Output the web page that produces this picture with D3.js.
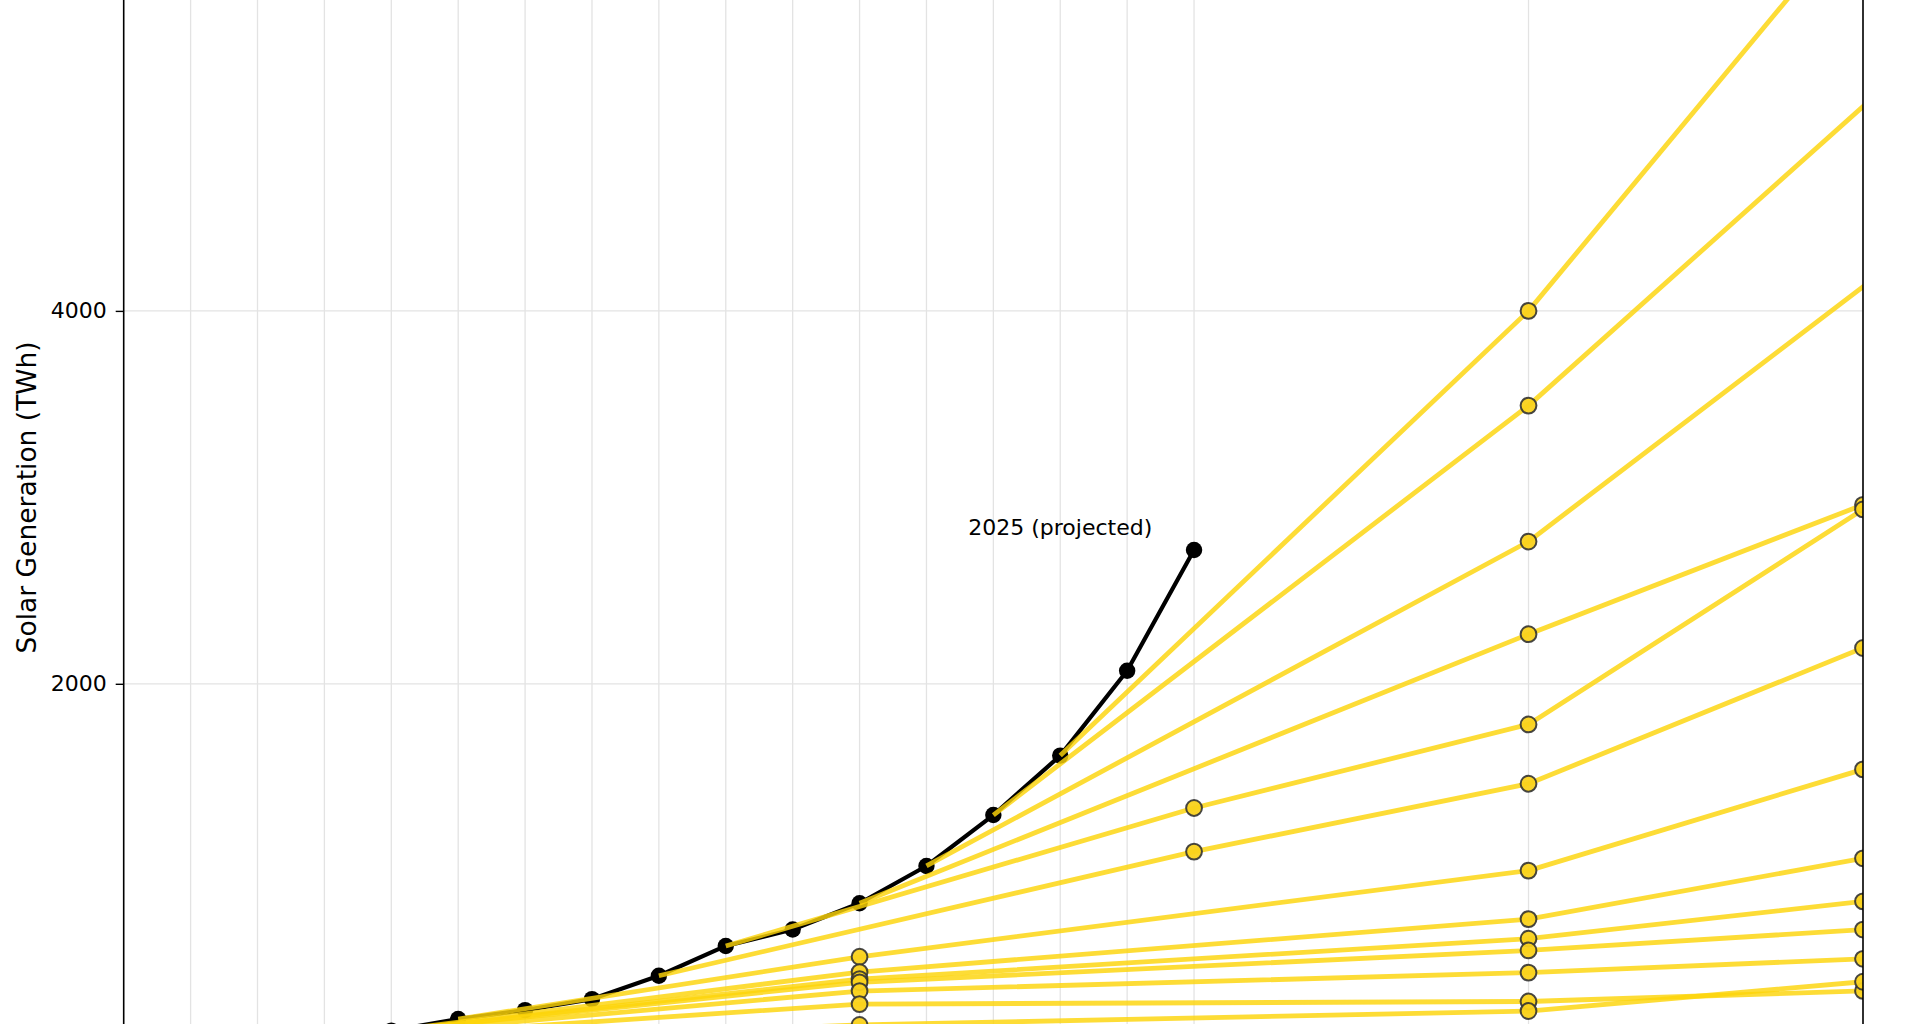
<!DOCTYPE html>
<html>
<head>
<meta charset="utf-8">
<script src="https://cdn.jsdelivr.net/npm/d3@7"></script>
<style>
  html, body { margin: 0; padding: 0; background: #fff; }
  svg { display: block; font-family: "DejaVu Sans", sans-serif; }
</style>
</head>
<body>
<div id="chart"></div>
<script>
// actual solar generation (TWh), 2025 is projected
const histYears = [2010, 2011, 2012, 2013, 2014, 2015, 2016, 2017, 2018, 2019, 2020, 2021, 2022, 2023, 2024, 2025];
const histValues = [32, 63, 99, 140, 202, 250, 309, 434, 594, 682, 823, 1023, 1296, 1615, 2070, 2718];

// projection lines: first point is the base year, the rest are projected points
const projYears = [
  [2023, 2030, 2035],
  [2022, 2030, 2040],
  [2021, 2030, 2040],
  [2020, 2030, 2035],
  [2018, 2025, 2030, 2035],
  [2017, 2025, 2030, 2035],
  [2014, 2020, 2030, 2035],
  [2013, 2020, 2030, 2035],
  [2012, 2020, 2030, 2035],
  [2011, 2020, 2030, 2035],
  [2010, 2020, 2030, 2035],
  [2009, 2020, 2030, 2035],
  [2008, 2020, 2030, 2035]
];
const projValues = [
  [1615, 4000, 6160],
  [1296, 3492, 6700],
  [1023, 2763, 5497],
  [823, 2266, 2960],
  [594, 1334, 1782, 2935],
  [434, 1100, 1464, 2192],
  [202, 536, 998, 1541],
  [140, 454, 738, 1064],
  [99, 416, 633, 833],
  [63, 399, 570, 682],
  [32, 352, 451, 525],
  [20, 282, 296, 353],
  [12, 170, 245, 402]
];

const xTicks = [2010, 2011, 2012, 2013, 2014, 2015, 2016, 2017, 2018, 2019, 2020, 2021, 2022, 2023, 2024, 2025, 2030, 2035];
const yGrid = [0, 2000, 4000, 6000];
const yLabels = [2000, 4000];

const width = 1920, height = 1024;
const left = 123.7, right = 1863;
const plotTop = -700, plotBottom = 1110;

const svg = d3.select("#chart").append("svg")
    .attr("width", width)
    .attr("height", height);

const x = d3.scaleLinear().domain([2009, 2035]).range([left, right]);
const y = d3.scaleLinear().domain([0, 4000]).range([1056.7, 310.9]);

svg.append("defs").append("clipPath")
    .attr("id", "plot-clip")
    .append("rect")
    .attr("x", left)
    .attr("y", plotTop)
    .attr("width", right - left)
    .attr("height", plotBottom - plotTop);

// grid
const grid = svg.append("g");
grid.selectAll("line.vgrid")
    .data(xTicks)
    .enter()
    .append("line")
    .attr("class", "vgrid")
    .attr("x1", d => x(d))
    .attr("x2", d => x(d))
    .attr("y1", plotTop)
    .attr("y2", plotBottom)
    .attr("stroke", "#e3e3e3")
    .attr("stroke-width", 1.3);
grid.selectAll("line.hgrid")
    .data(yGrid)
    .enter()
    .append("line")
    .attr("class", "hgrid")
    .attr("x1", left)
    .attr("x2", right)
    .attr("y1", d => y(d))
    .attr("y2", d => y(d))
    .attr("stroke", "#e3e3e3")
    .attr("stroke-width", 1.3);

const plot = svg.append("g").attr("clip-path", "url(#plot-clip)");

const line = d3.line()
    .x(d => x(d[0]))
    .y(d => y(d[1]));

// actual generation
const hist = histYears.map((yr, i) => [yr, histValues[i]]);
plot.append("path")
    .datum(hist)
    .attr("d", line)
    .attr("fill", "none")
    .attr("stroke", "#000")
    .attr("stroke-width", 4.2)
    .attr("stroke-linejoin", "round");
plot.selectAll("circle.hist")
    .data(hist)
    .enter()
    .append("circle")
    .attr("class", "hist")
    .attr("cx", d => x(d[0]))
    .attr("cy", d => y(d[1]))
    .attr("r", 8.2)
    .attr("fill", "#000");

// projections
const series = projYears.map((yrs, i) => yrs.map((yr, j) => [yr, projValues[i][j]]));

plot.selectAll("path.proj")
    .data(series)
    .enter()
    .append("path")
    .attr("class", "proj")
    .attr("d", line)
    .attr("fill", "none")
    .attr("stroke", "#FCD40A")
    .attr("stroke-opacity", 0.82)
    .attr("stroke-width", 4.8)
    .attr("stroke-linejoin", "round");

const projPoints = series.flatMap(s => s.slice(1));
plot.selectAll("circle.proj")
    .data(projPoints)
    .enter()
    .append("circle")
    .attr("class", "proj")
    .attr("cx", d => x(d[0]))
    .attr("cy", d => y(d[1]))
    .attr("r", 7.9)
    .attr("fill", "#FAD21C")
    .attr("fill-opacity", 0.95)
    .attr("stroke", "#333")
    .attr("stroke-opacity", 0.9)
    .attr("stroke-width", 2);

// spines
svg.append("line")
    .attr("x1", left).attr("x2", left)
    .attr("y1", plotTop).attr("y2", plotBottom)
    .attr("stroke", "#000").attr("stroke-width", 1.6);
svg.append("line")
    .attr("x1", right).attr("x2", right)
    .attr("y1", plotTop).attr("y2", plotBottom)
    .attr("stroke", "#000").attr("stroke-width", 1.6);

// y axis ticks (only the ones inside the visible window are labelled)
const yAxis = d3.axisLeft(y)
    .tickValues(yLabels)
    .tickSize(8)
    .tickPadding(9)
    .tickFormat(d3.format("d"));
const yg = svg.append("g")
    .attr("transform", `translate(${left},0)`)
    .call(yAxis);
yg.select(".domain").remove();
yg.selectAll(".tick line").attr("stroke", "#000").attr("stroke-width", 1.4);
yg.selectAll(".tick text")
    .attr("fill", "#000")
    .style("font-size", "22px")
    .style("font-family", "DejaVu Sans, sans-serif");

// axis label
svg.append("text")
    .attr("transform", `translate(36,${(y(2000) + y(4000)) / 2}) rotate(-90)`)
    .attr("text-anchor", "middle")
    .style("font-size", "26.5px")
    .attr("fill", "#000")
    .text("Solar Generation (TWh)");

// annotation on the last actual point
const last = hist[hist.length - 1];
svg.append("text")
    .attr("x", x(last[0] - 2))
    .attr("y", y(last[1]) - 15)
    .attr("text-anchor", "middle")
    .style("font-size", "22px")
    .attr("fill", "#000")
    .text("2025 (projected)");
</script>
</body>
</html>
